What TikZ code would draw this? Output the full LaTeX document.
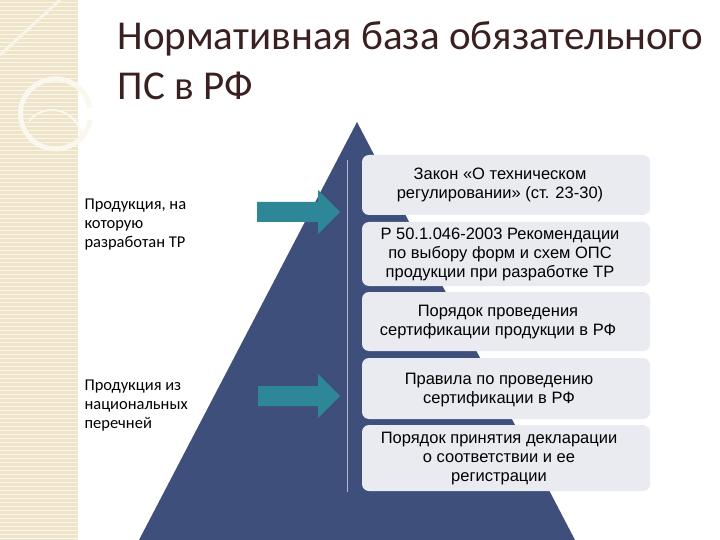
\documentclass[tikz,border=0pt]{standalone}
\usepackage{fontspec}
\setmainfont{Liberation Sans}
\newfontfamily\calfnt{Carlito}
\definecolor{pyr}{HTML}{3E4F7C}
\definecolor{boxc}{HTML}{E9EBF1}
\definecolor{teal}{HTML}{2E8797}
\definecolor{beige}{HTML}{EFE4C8}
\definecolor{ttl}{HTML}{3A2020}
\tikzset{
 lvl/.style={fill=boxc,rounded corners=7pt,draw=none},
 lvltxt/.style={align=center,font=\fontsize{16.5}{19}\selectfont},
 side/.style={align=left,anchor=north west,font=\calfnt\fontsize{16.5}{19}\selectfont},
 arr/.style={fill=teal,draw=none}
}
\begin{document}
\begin{tikzpicture}[x=1pt,y=-1pt]
\useasboundingbox (0,0) rectangle (720,540);
\fill[white] (0,0) rectangle (720,540);
% decorative band
\fill[beige] (0,0) rectangle (78,540);
\foreach \y in {2,6,...,540} \draw[white!70!beige,line width=0.8pt] (0,\y) -- (78,\y);
\draw[white!60!beige,line width=3pt] (0,55) -- (60,0);
\draw[white!70!beige,line width=5pt] (90,120) arc (10:350:35);
\draw[white!70!beige,line width=2pt] (82,140) arc (0:-140:30);
% title
\node[anchor=north west,align=left,text=ttl,font=\calfnt\fontsize{41}{50}\selectfont] (title) at (114,18) {Нормативная база обязательного\\ПС в РФ};
% pyramid
\fill[pyr] (357,122) -- (575,540) -- (139,540) -- cycle;
\draw[white!60!pyr,line width=0.6pt] (347,160) -- (347,492);
% levels
\foreach \a/\b [count=\i] in {155/215,222/286,292/351,358/419,425/491}
  \fill[lvl] (362,\a) rectangle (650,\b);
\node[lvltxt] (l1) at (500,185) {Закон «О техническом\\регулировании» (ст. 23-30)};
\node[lvltxt] (l2) at (500,254) {Р 50.1.046-2003 Рекомендации\\по выбору форм и схем ОПС\\продукции при разработке ТР};
\node[lvltxt] (l3) at (498,322) {Порядок проведения\\сертификации продукции в РФ};
\node[lvltxt] (l4) at (499,390) {Правила по проведению\\сертификации в РФ};
\node[lvltxt] (l5) at (499,459) {Порядок принятия декларации\\о соответствии и ее\\регистрации};
% side texts
\node[side] (s1) at (81,195) {Продукция, на\\которую\\разработан ТР};
\node[side] (s2) at (81,376) {Продукция из\\национальных\\перечней};
% arrows
\fill[arr] (257,202) -- (318,202) -- (318,190) -- (340,212) -- (318,234) -- (318,222) -- (257,222) -- cycle;
\fill[arr] (258,386) -- (318,386) -- (318,374) -- (340,396) -- (318,418) -- (318,406) -- (258,406) -- cycle;
\end{tikzpicture}
\end{document}
